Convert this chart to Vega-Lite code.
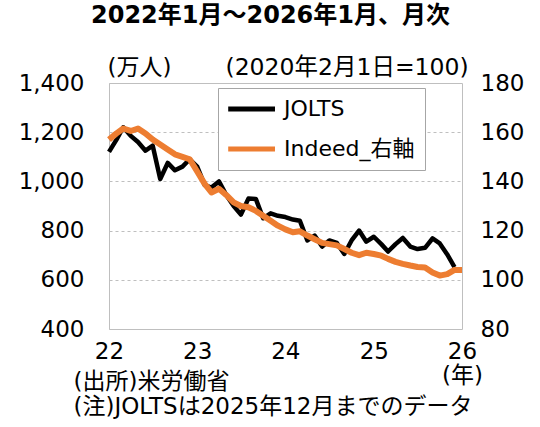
{
  "$schema": "https://vega.github.io/schema/vega-lite/v6.json",
  "description": "JOLTS求人数とIndeed求人指数、2022年1月～2026年1月、月次",
  "width": 353,
  "height": 246,
  "autosize": {"type": "none"},
  "padding": {"left": 109, "top": 83, "right": 78, "bottom": 98},
  "background": "white",
  "config": {
    "font": "DejaVu Sans, Noto Sans CJK JP",
    "view": {"stroke": "#bfbfbf", "strokeWidth": 1}
  },
  "title": {
    "text": "2022年1月～2026年1月、月次",
    "fontSize": 24,
    "fontWeight": "bold",
    "color": "#000000",
    "anchor": "middle",
    "frame": "group",
    "dx": -15,
    "offset": 27
  },
  "datasets": {
    "jolts": [
      {"date": "2022/01/01", "series": "JOLTS", "value": 1120},
      {"date": "2022/02/01", "series": "JOLTS", "value": 1170},
      {"date": "2022/03/01", "series": "JOLTS", "value": 1220},
      {"date": "2022/04/01", "series": "JOLTS", "value": 1185},
      {"date": "2022/05/01", "series": "JOLTS", "value": 1160},
      {"date": "2022/06/01", "series": "JOLTS", "value": 1125},
      {"date": "2022/07/01", "series": "JOLTS", "value": 1145},
      {"date": "2022/08/01", "series": "JOLTS", "value": 1010},
      {"date": "2022/09/01", "series": "JOLTS", "value": 1075},
      {"date": "2022/10/01", "series": "JOLTS", "value": 1045},
      {"date": "2022/11/01", "series": "JOLTS", "value": 1060},
      {"date": "2022/12/01", "series": "JOLTS", "value": 1090},
      {"date": "2023/01/01", "series": "JOLTS", "value": 1060},
      {"date": "2023/02/01", "series": "JOLTS", "value": 985},
      {"date": "2023/03/01", "series": "JOLTS", "value": 975},
      {"date": "2023/04/01", "series": "JOLTS", "value": 1000},
      {"date": "2023/05/01", "series": "JOLTS", "value": 945},
      {"date": "2023/06/01", "series": "JOLTS", "value": 900},
      {"date": "2023/07/01", "series": "JOLTS", "value": 865},
      {"date": "2023/08/01", "series": "JOLTS", "value": 930},
      {"date": "2023/09/01", "series": "JOLTS", "value": 928},
      {"date": "2023/10/01", "series": "JOLTS", "value": 850},
      {"date": "2023/11/01", "series": "JOLTS", "value": 870},
      {"date": "2023/12/01", "series": "JOLTS", "value": 860},
      {"date": "2024/01/01", "series": "JOLTS", "value": 855},
      {"date": "2024/02/01", "series": "JOLTS", "value": 845},
      {"date": "2024/03/01", "series": "JOLTS", "value": 840},
      {"date": "2024/04/01", "series": "JOLTS", "value": 760},
      {"date": "2024/05/01", "series": "JOLTS", "value": 780},
      {"date": "2024/06/01", "series": "JOLTS", "value": 735},
      {"date": "2024/07/01", "series": "JOLTS", "value": 760},
      {"date": "2024/08/01", "series": "JOLTS", "value": 750},
      {"date": "2024/09/01", "series": "JOLTS", "value": 705},
      {"date": "2024/10/01", "series": "JOLTS", "value": 760},
      {"date": "2024/11/01", "series": "JOLTS", "value": 800},
      {"date": "2024/12/01", "series": "JOLTS", "value": 755},
      {"date": "2025/01/01", "series": "JOLTS", "value": 775},
      {"date": "2025/02/01", "series": "JOLTS", "value": 745},
      {"date": "2025/03/01", "series": "JOLTS", "value": 715},
      {"date": "2025/04/01", "series": "JOLTS", "value": 745},
      {"date": "2025/05/01", "series": "JOLTS", "value": 770},
      {"date": "2025/06/01", "series": "JOLTS", "value": 735},
      {"date": "2025/07/01", "series": "JOLTS", "value": 725},
      {"date": "2025/08/01", "series": "JOLTS", "value": 730},
      {"date": "2025/09/01", "series": "JOLTS", "value": 768},
      {"date": "2025/10/01", "series": "JOLTS", "value": 748},
      {"date": "2025/11/01", "series": "JOLTS", "value": 703},
      {"date": "2025/12/01", "series": "JOLTS", "value": 652}
    ],
    "indeed": [
      {"date": "2022/01/01", "series": "Indeed_右軸", "value": 157},
      {"date": "2022/02/01", "series": "Indeed_右軸", "value": 159.5},
      {"date": "2022/03/01", "series": "Indeed_右軸", "value": 161.5},
      {"date": "2022/04/01", "series": "Indeed_右軸", "value": 160.5},
      {"date": "2022/05/01", "series": "Indeed_右軸", "value": 161.5},
      {"date": "2022/06/01", "series": "Indeed_右軸", "value": 159.5},
      {"date": "2022/07/01", "series": "Indeed_右軸", "value": 157},
      {"date": "2022/08/01", "series": "Indeed_右軸", "value": 155},
      {"date": "2022/09/01", "series": "Indeed_右軸", "value": 153},
      {"date": "2022/10/01", "series": "Indeed_右軸", "value": 151},
      {"date": "2022/11/01", "series": "Indeed_右軸", "value": 150},
      {"date": "2022/12/01", "series": "Indeed_右軸", "value": 149},
      {"date": "2023/01/01", "series": "Indeed_右軸", "value": 144},
      {"date": "2023/02/01", "series": "Indeed_右軸", "value": 139},
      {"date": "2023/03/01", "series": "Indeed_右軸", "value": 135.5},
      {"date": "2023/04/01", "series": "Indeed_右軸", "value": 137},
      {"date": "2023/05/01", "series": "Indeed_右軸", "value": 134.5},
      {"date": "2023/06/01", "series": "Indeed_右軸", "value": 131.5},
      {"date": "2023/07/01", "series": "Indeed_右軸", "value": 130},
      {"date": "2023/08/01", "series": "Indeed_右軸", "value": 129.5},
      {"date": "2023/09/01", "series": "Indeed_右軸", "value": 128},
      {"date": "2023/10/01", "series": "Indeed_右軸", "value": 126},
      {"date": "2023/11/01", "series": "Indeed_右軸", "value": 124},
      {"date": "2023/12/01", "series": "Indeed_右軸", "value": 122},
      {"date": "2024/01/01", "series": "Indeed_右軸", "value": 120.5},
      {"date": "2024/02/01", "series": "Indeed_右軸", "value": 119.3},
      {"date": "2024/03/01", "series": "Indeed_右軸", "value": 119.7},
      {"date": "2024/04/01", "series": "Indeed_右軸", "value": 118},
      {"date": "2024/05/01", "series": "Indeed_右軸", "value": 116.5},
      {"date": "2024/06/01", "series": "Indeed_右軸", "value": 115},
      {"date": "2024/07/01", "series": "Indeed_右軸", "value": 114.5},
      {"date": "2024/08/01", "series": "Indeed_右軸", "value": 114},
      {"date": "2024/09/01", "series": "Indeed_右軸", "value": 112.5},
      {"date": "2024/10/01", "series": "Indeed_右軸", "value": 111},
      {"date": "2024/11/01", "series": "Indeed_右軸", "value": 110},
      {"date": "2024/12/01", "series": "Indeed_右軸", "value": 111},
      {"date": "2025/01/01", "series": "Indeed_右軸", "value": 110.5},
      {"date": "2025/02/01", "series": "Indeed_右軸", "value": 109.8},
      {"date": "2025/03/01", "series": "Indeed_右軸", "value": 108.5},
      {"date": "2025/04/01", "series": "Indeed_右軸", "value": 107.3},
      {"date": "2025/05/01", "series": "Indeed_右軸", "value": 106.5},
      {"date": "2025/06/01", "series": "Indeed_右軸", "value": 105.8},
      {"date": "2025/07/01", "series": "Indeed_右軸", "value": 105.2},
      {"date": "2025/08/01", "series": "Indeed_右軸", "value": 105},
      {"date": "2025/09/01", "series": "Indeed_右軸", "value": 103},
      {"date": "2025/10/01", "series": "Indeed_右軸", "value": 101.7},
      {"date": "2025/11/01", "series": "Indeed_右軸", "value": 102.3},
      {"date": "2025/12/01", "series": "Indeed_右軸", "value": 104},
      {"date": "2026/01/01", "series": "Indeed_右軸", "value": 104}
    ]
  },
  "encoding": {
    "x": {
      "field": "date",
      "type": "temporal",
      "scale": {
        "domain": [
          {"year": 2022, "month": 1, "date": 1},
          {"year": 2026, "month": 1, "date": 1}
        ]
      },
      "axis": {
        "values": [
          {"year": 2022, "month": 1, "date": 1},
          {"year": 2023, "month": 1, "date": 1},
          {"year": 2024, "month": 1, "date": 1},
          {"year": 2025, "month": 1, "date": 1},
          {"year": 2026, "month": 1, "date": 1}
        ],
        "format": "%y",
        "labelExpr": "year(datum.value) == 2026 ? ['26', '(年)'] : datum.label",
        "labelFlush": false,
        "labelOverlap": false,
        "labelFontSize": 23,
        "labelColor": "#000000",
        "labelPadding": 11,
        "labelLineHeight": 24,
        "ticks": false,
        "domain": false,
        "grid": false,
        "title": ["(出所)米労働省", "(注)JOLTSは2025年12月までのデータ"],
        "titleFontSize": 23,
        "titleFontWeight": "normal",
        "titleColor": "#000000",
        "titleAlign": "left",
        "titleAnchor": "start",
        "titleBaseline": "top",
        "titleX": -36,
        "titleY": 41,
        "titleLineHeight": 25
      }
    },
    "color": {
      "field": "series",
      "type": "nominal",
      "scale": {"domain": ["JOLTS", "Indeed_右軸"], "range": ["#000000", "#ED7D31"]},
      "legend": {
        "orient": "none",
        "legendX": 109,
        "legendY": 5,
        "title": null,
        "strokeColor": "#a6a6a6",
        "fillColor": "white",
        "padding": 10,
        "symbolType": "M-1.8,0H6",
        "symbolSize": 144,
        "symbolStrokeWidth": 5,
        "labelFontSize": 22,
        "labelColor": "#000000",
        "labelOffset": 34,
        "rowPadding": 18
      }
    }
  },
  "layer": [
    {
      "data": {"name": "jolts"},
      "mark": {"type": "line", "strokeWidth": 4.5, "strokeJoin": "round"},
      "encoding": {
        "y": {
          "field": "value",
          "type": "quantitative",
          "scale": {"domain": [400, 1400]},
          "axis": {
            "values": [400, 600, 800, 1000, 1200, 1400],
            "format": ",.0f",
            "labelFontSize": 23,
            "labelColor": "#000000",
            "labelPadding": 25,
            "ticks": false,
            "domain": false,
            "grid": true,
            "gridColor": "#bfbfbf",
            "gridDash": [3, 3],
            "title": "(万人)",
            "titleAngle": 0,
            "titleAlign": "left",
            "titleBaseline": "middle",
            "titleX": -2,
            "titleY": -16,
            "titleFontSize": 23,
            "titleFontWeight": "normal",
            "titleColor": "#000000"
          }
        }
      }
    },
    {
      "data": {"name": "indeed"},
      "mark": {"type": "line", "strokeWidth": 6, "strokeJoin": "round"},
      "encoding": {
        "y": {
          "field": "value",
          "type": "quantitative",
          "scale": {"domain": [80, 180]},
          "axis": {
            "orient": "right",
            "values": [80, 100, 120, 140, 160, 180],
            "labelFontSize": 23,
            "labelColor": "#000000",
            "labelPadding": 18,
            "ticks": false,
            "domain": false,
            "grid": false,
            "title": "(2020年2月1日=100)",
            "titleAngle": 0,
            "titleAlign": "left",
            "titleBaseline": "middle",
            "titleX": -237,
            "titleY": -16,
            "titleFontSize": 23.5,
            "titleFontWeight": "normal",
            "titleColor": "#000000"
          }
        }
      }
    }
  ],
  "resolve": {"scale": {"y": "independent"}}
}
